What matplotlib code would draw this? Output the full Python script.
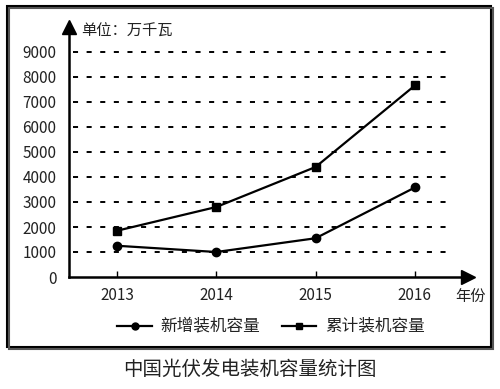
"""China PV installed capacity line chart."""
import matplotlib
matplotlib.use("Agg")
import matplotlib.pyplot as plt
from matplotlib.patches import Rectangle
from matplotlib.lines import Line2D

plt.rcParams["font.family"] = ["Noto Sans CJK SC", "DejaVu Sans"]

# Data
years = ["2013", "2014", "2015", "2016"]
new_capacity = [1250, 1000, 1550, 3580]
total_capacity = [1850, 2800, 4400, 7660]
y_ticks = [0, 1000, 2000, 3000, 4000, 5000, 6000, 7000, 8000, 9000]

TEXT = "#222222"
W, H = 500, 389

fig = plt.figure(figsize=(W / 100, H / 100), dpi=100)
ax = fig.add_axes([69 / W, (H - 277) / H, (468 - 69) / W, 250 / H])

x = list(range(len(years)))

# Dashed gridlines.
for yv in y_ticks[1:]:
    ax.axhline(yv, xmin=0.01, xmax=0.947, color="black", lw=1.4,
               linestyle=(0, (2.6, 4.4)), zorder=1)

ax.plot(x, new_capacity, color="black", lw=1.6, marker="o", ms=6, zorder=3)
ax.plot(x, total_capacity, color="black", lw=1.6, marker="s", ms=6, zorder=3)

ax.set_xlim(-0.483, 3.535)
ax.set_ylim(0, 10000)
ax.set_xticks(x, years)
ax.set_yticks(y_ticks)
ax.tick_params(axis="x", direction="in", length=4, width=1, pad=7,
               labelsize=11, labelcolor=TEXT)
ax.tick_params(axis="y", length=0, pad=9, labelsize=11, labelcolor=TEXT)

for s in ["top", "right"]:
    ax.spines[s].set_visible(False)
for s in ["left", "bottom"]:
    ax.spines[s].set_linewidth(1.8)

# Arrowheads.
ax.plot(1, 0, marker=">", ms=10, color="black", transform=ax.transAxes, clip_on=False)
ax.plot(0, 1, marker="^", ms=10, color="black", transform=ax.transAxes, clip_on=False)

# Axis annotations.
fig.text(81 / W, 1 - 31 / H, "单位：万千瓦", fontsize=11, color=TEXT, va="center", ha="left")
fig.text(470 / W, 1 - 296 / H, "年份", fontsize=11, color=TEXT, va="center", ha="center")

# Legend (manual).
ly = 1 - 326 / H
fig.add_artist(Line2D([117 / W, 152 / W], [ly, ly], color="black", lw=1.6))
fig.add_artist(Line2D([134.5 / W], [ly], color="black", marker="o", ms=5))
fig.text(160 / W, ly, "新增装机容量", fontsize=12, color=TEXT, va="center", ha="left")
fig.add_artist(Line2D([282 / W, 316 / W], [ly, ly], color="black", lw=1.6))
fig.add_artist(Line2D([299 / W], [ly], color="black", marker="s", ms=5))
fig.text(325 / W, ly, "累计装机容量", fontsize=12, color=TEXT, va="center", ha="left")

# Frame with shadow.
fig.add_artist(Rectangle((9 / W, 1 - 349 / H), 484 / W, 341 / H, transform=fig.transFigure,
                         fill=False, edgecolor="#555555", lw=1.5))
fig.add_artist(Rectangle((7 / W, 1 - 347 / H), 484 / W, 341 / H, transform=fig.transFigure,
                         facecolor="white", edgecolor="black", lw=1.5, zorder=-1))

# Title.
fig.text(250 / W, 1 - 369 / H, "中国光伏发电装机容量统计图", fontsize=14, color=TEXT,
         va="center", ha="center")

fig.savefig("out.png", dpi=100)
